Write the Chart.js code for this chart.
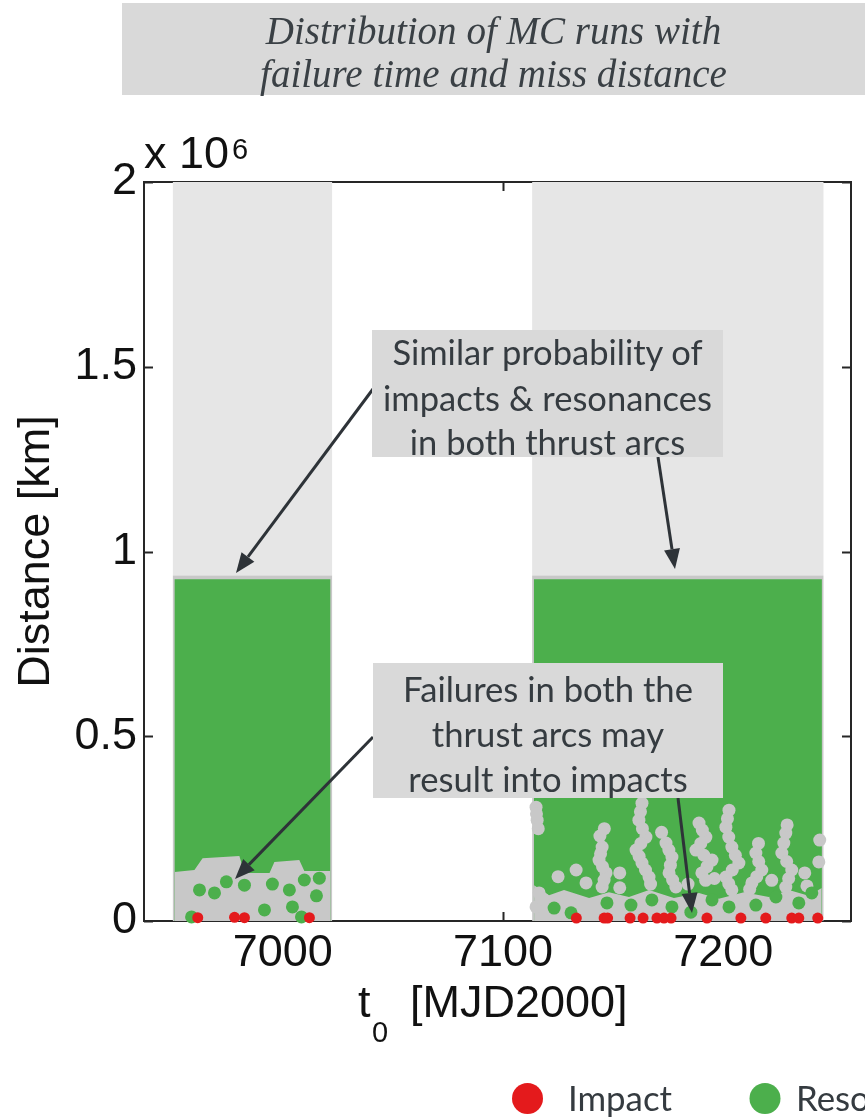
<!DOCTYPE html>
<html><head><meta charset="utf-8">
<script src="https://cdn.jsdelivr.net/npm/chart.js@4.4.1/dist/chart.umd.min.js"></script>
<style>
html,body{margin:0;padding:0;background:#fff;}
#wrap{position:relative;width:865px;height:1118px;overflow:hidden;background:#fff;}
#c{position:absolute;left:0;top:0;}
.box{position:absolute;background:#d9d9d9;}
.ln{position:absolute;left:0;width:100%;text-align:center;white-space:nowrap;color:#353b40;}
</style></head><body>
<div id="wrap">
<canvas id="c" width="865" height="1118"></canvas>
<div id="titleBox" class="box" style="left:122px;top:3px;width:760px;height:92px;"></div>
<div id="note1" class="box" style="left:372px;top:330px;width:351px;height:127px;"></div>
<div id="note2" class="box" style="left:373px;top:663px;width:350px;height:135px;"></div>
</div>
<script>
// ---------------- data ----------------
const xTicks = [7000, 7100, 7200];
const yTicks = [0, 500000, 1000000, 1500000, 2000000];
const xMin = 6937, xMax = 7258;
const distMax = 2000000;
// two thrust arcs (failure-time windows) [MJD2000]
const arcStart = [6950.0, 7113.2];
const arcEnd   = [7022.5, 7245.6];
// miss-distance limits of the dense clouds [km]
const nonResLower = 935000;   // grey cloud below this (behind resonances)
const resTop = 925000;        // resonances occupy up to here
// lower edge of the solid resonance cloud, arc 1
const arc1EdgeT = [6950.9, 6959.9, 6963.6, 6980.3, 6982.6, 6994.0, 6996.2, 7007.5, 7009.8, 7021.6];
const arc1EdgeD = [132600, 138000, 170000, 176000, 130000, 130000, 160000, 165000, 135000, 135000];
// lower edge of the solid resonance cloud, arc 2
const arc2EdgeT = [7114.1, 7120.9, 7127.7, 7139.1, 7148.1, 7157.2, 7166.3, 7177.6, 7189.0, 7198.0, 7209.4, 7220.7, 7229.8, 7238.8, 7244.7];
const arc2EdgeD = [97000, 70000, 84000, 62000, 78000, 65000, 84000, 62000, 76000, 60000, 78000, 65000, 84000, 68000, 89000];
// non-resonant runs showing through the resonance cloud
const noResT = [7145.0, 7143.6, 7146.8, 7145.0, 7144.3, 7145.2, 7145.9, 7146.0, 7144.0,
  7163.1, 7161.7, 7164.9, 7160.4, 7163.1, 7166.3, 7162.4, 7163.3, 7162.6, 7161.8, 7164.7, 7167.0,
  7174.0, 7176.7, 7175.4, 7178.5, 7175.3, 7176.0, 7177.0, 7172.0,
  7189.0, 7192.1, 7187.6, 7194.9, 7190.3, 7190.5, 7189.8, 7191.2, 7192.6, 7192.0,
  7202.6, 7201.2, 7203.9, 7207.1, 7201.2, 7203.9, 7201.9, 7202.5, 7205.5, 7204.1, 7202.5,
  7214.8, 7217.5, 7213.0, 7216.1, 7215.2, 7216.0, 7212.0,
  7228.4, 7226.6, 7231.1, 7228.4, 7227.5, 7228.8, 7229.7, 7229.0,
  7115.0, 7115.5, 7116.4, 7119.6, 7115.0, 7115.2, 7116.0, 7118.0,
  7133.2, 7137.7, 7243.8, 7243.4, 7125.0, 7153.0, 7153.0, 7184.0, 7196.0, 7222.0, 7237.0, 7238.0];
const noResD = [200000, 165000, 130000, 92000, 182000, 147000, 111000, 250000, 230000,
  319000, 273000, 227000, 192000, 157000, 119000, 296000, 250000, 210000, 175000, 138000, 100000,
  211000, 173000, 130000, 92000, 192000, 151000, 111000, 240000,
  265000, 227000, 192000, 165000, 130000, 246000, 210000, 178000, 147000, 110000,
  300000, 254000, 200000, 157000, 119000, 84000, 277000, 227000, 178000, 138000, 101000,
  184000, 138000, 103000, 161000, 120000, 210000, 86000,
  238000, 184000, 138000, 92000, 211000, 161000, 115000, 260000,
  308000, 273000, 76000, 49000, 38000, 290000, 250000, 60000,
  138000, 103000, 219000, 160000, 120000, 90000, 130000, 100000, 115000, 110000, 130000, 95000];
// isolated resonance runs at low miss distance
const resT = [6962.2, 6969.0, 6974.4, 6982.6, 6995.3, 7003.0, 7015.3, 6991.7, 7004.4, 6958.6, 7008.5, 7009.8, 7016.6,
  7123.2, 7130.9, 7147.2, 7158.1, 7167.6, 7176.7, 7185.3, 7194.9, 7202.6, 7214.8, 7223.9, 7234.3, 7240.2];
const resD = [84000, 76000, 106000, 97000, 100000, 84000, 68000, 30000, 38000, 11000, 11000, 111000, 116000,
  35000, 22000, 49000, 43000, 57000, 38000, 24000, 57000, 38000, 43000, 65000, 49000, 76000];
// impacts
const impactT = [6961.4, 6978.1, 6982.6, 7012.1, 7133.3, 7145.9, 7147.5, 7157.7, 7163.6, 7169.9,
  7173.1, 7176.3, 7192.6, 7208.0, 7219.3, 7231.1, 7234.3, 7242.9];
const impactD = [9000, 10000, 9000, 9000, 8000, 8000, 8000, 8000, 8000, 8000,
  8000, 8000, 8000, 8000, 8000, 8000, 8000, 8000];
const legendLabels = ['Impact', 'Resonance'];
const titleLines = ['Distribution of MC runs with', 'failure time and miss distance'];
const note1Lines = ['Similar probability of', 'impacts & resonances', 'in both thrust arcs'];
const note2Lines = ['Failures in both the', 'thrust arcs may', 'result into impacts'];

// ---------------- styles ----------------
const LIGHT = '#e6e6e6', DARK = '#c8c8c8', GREEN = '#4caf4c', RED = '#e41a1c';
const AX = 'Liberation Sans, Arial, sans-serif';

const zip = (a, b) => a.map((v, i) => ({x: v, y: b[i]}));
const area = {showLine: true, borderWidth: 0, pointRadius: 0, pointHoverRadius: 0, tension: 0};
const datasets = [];
for (let i = 0; i < arcStart.length; i++) {
  datasets.push(Object.assign({label: 'noResLow' + i, data: [{x: arcStart[i], y: nonResLower}, {x: arcEnd[i], y: nonResLower}], fill: 'origin', backgroundColor: DARK, order: 30}, area));
  datasets.push(Object.assign({label: 'noResHigh' + i, data: [{x: arcStart[i], y: distMax}, {x: arcEnd[i], y: distMax}], fill: {value: nonResLower}, backgroundColor: LIGHT, order: 30}, area));
  datasets.push(Object.assign({label: 'res' + i, data: [{x: arcStart[i] + 0.8, y: resTop}, {x: arcEnd[i] - 0.8, y: resTop}], fill: 'origin', backgroundColor: GREEN, order: 25}, area));
}
datasets.push(Object.assign({label: 'edge1', data: zip(arc1EdgeT, arc1EdgeD), fill: 'origin', backgroundColor: DARK, order: 20}, area));
datasets.push(Object.assign({label: 'edge2', data: zip(arc2EdgeT, arc2EdgeD), fill: 'origin', backgroundColor: DARK, order: 20}, area));
datasets.push({label: 'noRes', data: zip(noResT, noResD), pointRadius: 6.5, pointBackgroundColor: DARK, pointBorderWidth: 0, showLine: false, order: 15});
datasets.push({label: 'Resonance', data: zip(resT, resD), pointRadius: 6.5, pointBackgroundColor: GREEN, pointBorderWidth: 0, showLine: false, order: 10, clip: false});
datasets.push({label: 'Impact', data: zip(impactT, impactD), pointRadius: 5.5, pointBackgroundColor: RED, pointBorderWidth: 0, showLine: false, order: 5, clip: false});

const frame = {
  id: 'frame',
  beforeDatasetsDraw(chart) {
    const {ctx, chartArea: a, scales: {x, y}} = chart;
    ctx.save();
    ctx.strokeStyle = '#262626'; ctx.lineWidth = 2;
    ctx.strokeRect(a.left, a.top, a.right - a.left, a.bottom - a.top);
    ctx.beginPath();
    xTicks.forEach(v => { const p = Math.round(x.getPixelForValue(v)) + 0.5;
      ctx.moveTo(p, a.bottom); ctx.lineTo(p, a.bottom - 9);
      ctx.moveTo(p, a.top); ctx.lineTo(p, a.top + 9); });
    yTicks.forEach(v => { const p = Math.round(y.getPixelForValue(v)) + 0.5;
      ctx.moveTo(a.left, p); ctx.lineTo(a.left + 9, p);
      ctx.moveTo(a.right, p); ctx.lineTo(a.right - 9, p); });
    ctx.stroke();
    ctx.restore();
  },
  afterDatasetsDraw(chart) {
    const {ctx} = chart;
    ctx.save();
    ctx.strokeStyle = '#2e3338'; ctx.fillStyle = '#2e3338'; ctx.lineWidth = 3;
    const arrow = (x0, y0, x1, y1) => {
      const ang = Math.atan2(y1 - y0, x1 - x0), L = 20, W = 8;
      const bx = x1 - L * Math.cos(ang), by = y1 - L * Math.sin(ang);
      ctx.beginPath(); ctx.moveTo(x0, y0); ctx.lineTo(bx, by); ctx.stroke();
      ctx.beginPath(); ctx.moveTo(x1, y1);
      ctx.lineTo(bx + W * Math.sin(ang), by - W * Math.cos(ang));
      ctx.lineTo(bx - W * Math.sin(ang), by + W * Math.cos(ang));
      ctx.closePath(); ctx.fill();
    };
    arrow(373, 389, 236, 573);
    arrow(658, 457, 675, 569);
    arrow(373, 737, 235, 879);
    arrow(678, 798, 692, 913);
    ctx.restore();
  },
  afterDraw(chart) {
    const {ctx, chartArea: a} = chart;
    ctx.save();
    ctx.fillStyle = '#111';
    ctx.textBaseline = 'alphabetic'; ctx.textAlign = 'left';
    ctx.font = '45px ' + AX; ctx.fillText('x 10', a.left, 168);
    ctx.font = '29px ' + AX; ctx.fillText('6', 232, 159);
    ctx.font = '45px ' + AX; ctx.fillText('t', 358, 1017);
    ctx.font = '29px ' + AX; ctx.fillText('0', 372, 1042);
    ctx.font = '45px ' + AX; ctx.fillText('[MJD2000]', 410, 1017);
    ctx.translate(49, (a.top + a.bottom) / 2); ctx.rotate(-Math.PI / 2);
    ctx.textAlign = 'center'; ctx.fillText('Distance [km]', 0, 0);
    ctx.restore();
    ctx.save();
    const cols = [RED, GREEN], cx = [527.5, 765], tx = [568, 796];
    const lf = fit('Lato', '', legendLabels[0], 104);
    ctx.font = lf + 'px Lato'; ctx.textBaseline = 'middle'; ctx.textAlign = 'left';
    legendLabels.forEach((l, i) => {
      ctx.fillStyle = cols[i]; ctx.beginPath(); ctx.arc(cx[i], 1098.5, 15.5, 0, Math.PI * 2); ctx.fill();
      ctx.fillStyle = '#353b40'; ctx.fillText(l, tx[i], 1100);
    });
    ctx.restore();
  }
};

function fit(family, style, text, w) {
  const c = document.createElement('canvas').getContext('2d');
  c.font = style + ' 100px ' + family;
  return 100 * w / c.measureText(text).width;
}

new Chart(document.getElementById('c'), {
  type: 'scatter',
  data: {datasets},
  options: {
    responsive: false, animation: false, devicePixelRatio: 1,
    layout: {padding: {top: 182, right: 14, left: 0, bottom: 0}},
    plugins: {legend: {display: false}, tooltip: {enabled: false}},
    scales: {
      x: {type: 'linear', min: xMin, max: xMax,
        grid: {display: false, drawTicks: false}, border: {display: false},
        ticks: {font: {family: AX, size: 45}, color: '#111', padding: 6, maxRotation: 0, autoSkip: false,
          callback: v => String(v)},
        afterBuildTicks: s => { s.ticks = xTicks.map(v => ({value: v})); },
        afterFit: s => { s.height = 197; }},
      y: {type: 'linear', min: 0, max: distMax,
        grid: {display: false, drawTicks: false}, border: {display: false},
        ticks: {font: {family: AX, size: 45}, color: '#111', padding: 7, autoSkip: false,
          callback: v => String(v / 1e6)},
        afterBuildTicks: s => { s.ticks = yTicks.map(v => ({value: v})); },
        afterFit: s => { s.width = 144; }}
    }
  },
  plugins: [frame]
});

function fillBox(id, lines, family, style, fitIdx, fitW, centers, lh, boxTop) {
  const el = document.getElementById(id);
  const fs = fit(family, style, lines[fitIdx], fitW);
  lines.forEach((t, i) => {
    const d = document.createElement('div');
    d.className = 'ln'; d.textContent = t;
    d.style.fontFamily = family; d.style.fontStyle = style || 'normal';
    d.style.fontSize = fs + 'px'; d.style.lineHeight = lh + 'px';
    d.style.top = (centers[i] - boxTop - lh / 2) + 'px';
    el.appendChild(d);
  });
}
fillBox('titleBox', titleLines, 'Liberation Serif', 'italic', 1, 467, [30, 73], 43, 3);
document.querySelectorAll('#titleBox .ln').forEach(d => { d.style.width = '743px'; d.style.color = '#3a4045'; });
fillBox('note1', note1Lines, 'Lato', '', 1, 329, [351, 397, 441], 45, 330);
fillBox('note2', note2Lines, 'Lato', '', 0, 290, [688, 733, 778], 45, 663);
</script>
</body></html>
